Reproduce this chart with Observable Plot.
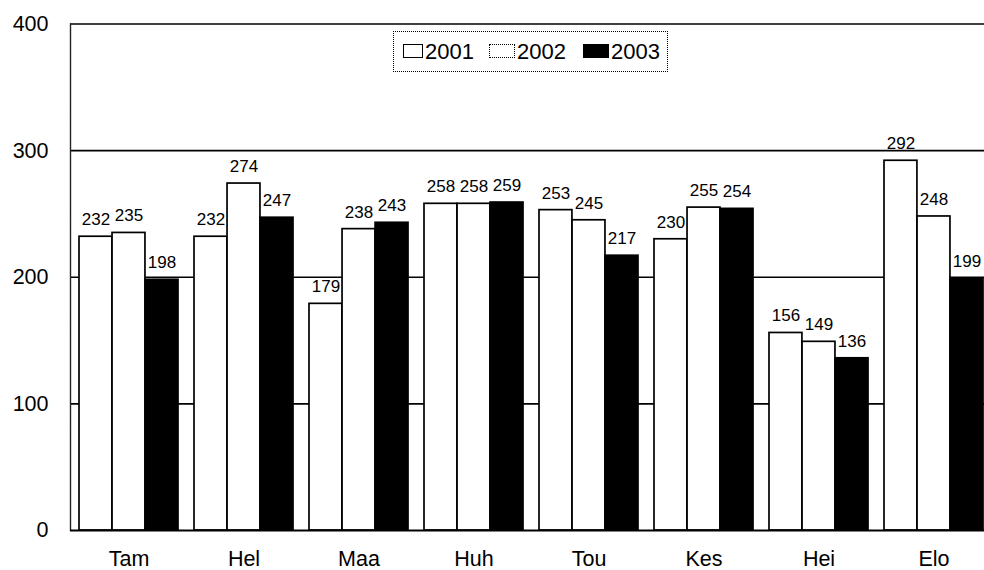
<!DOCTYPE html>
<html>
<head>
<meta charset="utf-8">
<script src="https://cdn.jsdelivr.net/npm/d3@7"></script>
<script src="https://cdn.jsdelivr.net/npm/@observablehq/plot@0.6"></script>
<style>
  html, body { margin: 0; padding: 0; background: #fff; }
  #wrap { position: relative; width: 984px; height: 570px; overflow: hidden; font-family: "Liberation Sans", Arial, sans-serif; }
  #legend { position: absolute; left: 393px; top: 31px; width: 275px; height: 41px; border: 1px dotted #000; background: #fff;
            box-sizing: border-box; font-size: 22px; color: #000; }
  .sw { position: absolute; top: 12px; height: 12px; border: 1.5px solid #000; }
  .lt { position: absolute; top: 9px; line-height: 22px; }
</style>
</head>
<body>
<div id="wrap"><div id="legend"></div></div>
<script>
const categories = ["Tam", "Hel", "Maa", "Huh", "Tou", "Kes", "Hei", "Elo"];
const years = ["2001", "2002", "2003"];
const v2001 = [232, 232, 179, 258, 253, 230, 156, 292];
const v2002 = [235, 274, 238, 258, 245, 255, 149, 248];
const v2003 = [198, 247, 243, 259, 217, 254, 136, 199];
const yTicks = [0, 100, 200, 300, 400];
const gridValues = [100, 200, 300];
const fills = ["white", "white", "black"];

const series = [v2001, v2002, v2003];
const data = categories.flatMap((c, i) => years.map((yr, j) => ({cat: c, year: yr, j, value: series[j][i]})));

const xRange = [70, 992];
const pIn = 0.14, pOut = 0.07;
const step = (xRange[1] - xRange[0]) / (categories.length - pIn + 2 * pOut);
const bw = step * (1 - pIn);
const w = bw / 3;

const marks = [
  Plot.ruleY(gridValues, {stroke: "black", strokeWidth: 1.6}),
  Plot.ruleY([400], {stroke: "black", strokeWidth: 1.6}),
  Plot.frame({anchor: "left", stroke: "#222", strokeWidth: 1.4, strokeDasharray: "2,0.6"})
];
years.forEach((yr, j) => {
  const sub = data.filter(d => d.j === j);
  marks.push(Plot.barY(sub, {
    x: "cat", y: "value", fill: fills[j], stroke: "black", strokeWidth: 1.7,
    insetLeft: j * w, insetRight: (2 - j) * w
  }));
  marks.push(Plot.text(sub, {
    x: "cat", y: "value", text: d => String(d.value), dx: (j - 1) * w, dy: -17,
    fontSize: 17, fontFamily: "'Liberation Sans', Arial, sans-serif", fill: "black"
  }));
});
marks.push(Plot.ruleY([0], {stroke: "black", strokeWidth: 2}));

const chart = Plot.plot({
  width: 984,
  height: 570,
  marginTop: 23.5,
  marginBottom: 40,
  marginLeft: 70,
  marginRight: 0,
  style: {fontFamily: "'Liberation Sans', Arial, sans-serif", fontSize: "21.5px", color: "black", background: "white"},
  x: {domain: categories, range: xRange, paddingInner: pIn, paddingOuter: pOut, tickSize: 0, tickPadding: 20, label: null},
  y: {domain: [0, 400], ticks: yTicks, tickSize: 0, tickPadding: 22, label: null, tickFormat: d => String(d)},
  marks
});
document.getElementById("wrap").prepend(chart);

const legend = document.getElementById("legend");
const swLeft = [9, 95, 189];
const swWidth = [18, 24, 24];
const txtLeft = [31, 123, 217];
years.forEach((yr, j) => {
  const sw = document.createElement("div");
  sw.className = "sw";
  sw.style.left = swLeft[j] + "px";
  sw.style.width = swWidth[j] + "px";
  sw.style.background = fills[j];
  if (j === 1) sw.style.borderStyle = "dotted";
  const t = document.createElement("span");
  t.className = "lt";
  t.style.left = txtLeft[j] + "px";
  t.textContent = yr;
  legend.appendChild(sw);
  legend.appendChild(t);
});
</script>
</body>
</html>
